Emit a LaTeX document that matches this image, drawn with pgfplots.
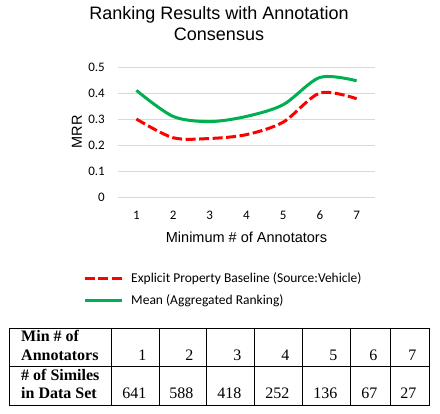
\documentclass[border=0pt]{standalone}
\usepackage{pgfplots}
\pgfplotsset{compat=1.18}
\usepackage{fontspec}
\setmainfont{Liberation Sans}
\newfontfamily\calibri{Carlito}
\newfontfamily\timesf{Liberation Serif}
\definecolor{xlgreen}{RGB}{0,176,80}
\definecolor{xlred}{RGB}{255,0,0}
\definecolor{gridgray}{RGB}{217,217,217}
\begin{document}
\begin{tikzpicture}[x=1pt,y=1pt]
\path[use as bounding box] (0,0) rectangle (440,414);
\begin{axis}[
  at={(118pt,217pt)}, anchor=south west,
  scale only axis, width=257pt, height=130pt,
  xmin=0.5, xmax=7.5, ymin=0, ymax=0.5,
  xtick={1,2,3,4,5,6,7}, xticklabels={1,2,3,4,5,6,7},
  ytick={0,0.1,0.2,0.3,0.4,0.5}, yticklabels={0,0.1,0.2,0.3,0.4,0.5},
  axis line style={draw=none},
  major tick length=0pt,
  ymajorgrids, grid style={gridgray, line width=0.9pt},
  yticklabel style={font=\calibri\fontsize{13}{15}\selectfont, inner sep=0pt, anchor=east, xshift=-13pt},
  xticklabel style={font=\calibri\fontsize{13}{15}\selectfont, inner sep=0pt, anchor=north, yshift=-14pt},
  xlabel={Minimum \# of Annotators},
  ylabel={MRR},
  every axis x label/.style={at={(axis description cs:0.5,0)}, anchor=center, yshift=-40pt, font=\fontsize{14.5}{16}\selectfont},
  every axis y label/.style={at={(axis description cs:-0.16,0.5)}, rotate=90, anchor=center, font=\fontsize{14.5}{16}\selectfont},
  title={Ranking Results with Annotation\\Consensus},
  title style={at={(axis description cs:0.393,1)}, anchor=center, yshift=37.5pt, align=center, font=\fontsize{18}{21}\selectfont},
  legend style={draw=none, fill=none, at={(axis description cs:-0.136,-0.58)}, anchor=north west,
    font=\calibri\fontsize{13.5}{16}\selectfont, row sep=11pt, inner sep=0pt, column sep=8pt,
    nodes={inner sep=0pt}},
  legend cell align=left,
  legend image code/.code={\draw[#1] (0pt,0pt) -- (37pt,0pt);},
]
\addplot[xlred, line width=3pt, dash pattern=on 10pt off 3.5pt, smooth] coordinates {
  (1,0.300) (2,0.228) (3,0.225) (4,0.240) (5,0.288) (6,0.400) (7,0.378)};
\addlegendentry{Explicit Property Baseline (Source:Vehicle)}
\addplot[xlgreen, line width=3pt, smooth] coordinates {
  (1,0.410) (2,0.310) (3,0.290) (4,0.310) (5,0.355) (6,0.460) (7,0.447)};
\addlegendentry{Mean (Aggregated Ranking)}
\end{axis}
% table below the chart
\draw[line width=0.9pt] (9.5,86) rectangle (429,9);
\draw[line width=0.9pt] (9.5,48) -- (429,48);
\foreach \xx in {111,159,206,254,302,350,390} {\draw[line width=0.9pt] (\xx,86) -- (\xx,9);}
\begin{scope}[every node/.style={inner sep=0pt, font=\timesf\fontsize{16}{18}\selectfont}]
\node[anchor=base west, font=\timesf\bfseries\fontsize{16}{18}\selectfont] at (21,72) {Min \# of};
\node[anchor=base west, font=\timesf\bfseries\fontsize{16}{18}\selectfont] at (21,53) {Annotators};
\node[anchor=base west, font=\timesf\bfseries\fontsize{16}{18}\selectfont] at (21,33) {\# of Similes};
\node[anchor=base west, font=\timesf\bfseries\fontsize{16}{18}\selectfont] at (21,15) {in Data Set};
\foreach \r/\a/\b in {159/1/641, 206/2/588, 254/3/418, 302/4/252, 350/5/136, 390/6/67, 429/7/27} {
  \node[anchor=base east] at (\r-12.5,53) {\a};
  \node[anchor=base east] at (\r-12.5,15) {\b};
}
\end{scope}
\end{tikzpicture}
\end{document}
